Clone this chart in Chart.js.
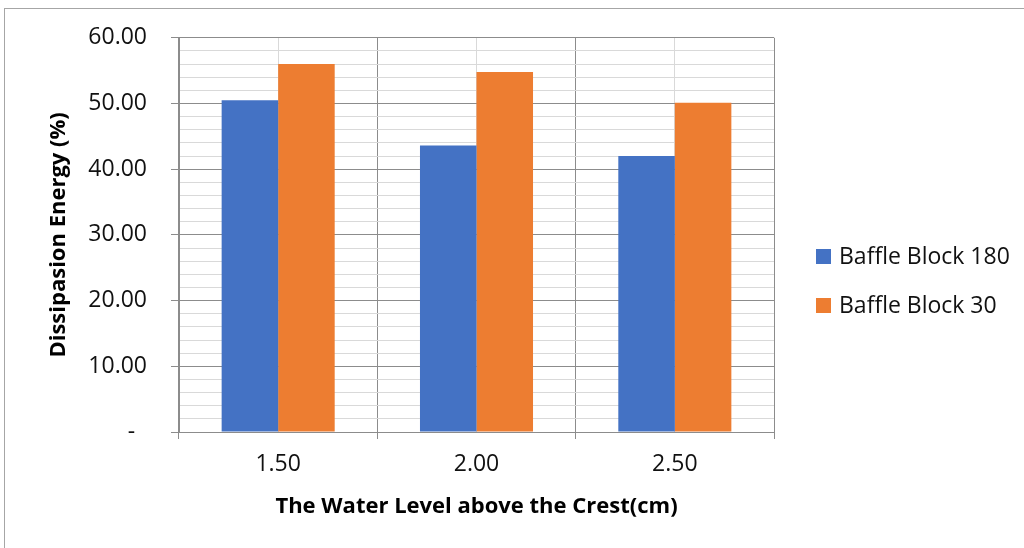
<!DOCTYPE html>
<html>
<head>
<meta charset="utf-8">
<script src="https://cdn.jsdelivr.net/npm/chart.js@4"></script>
<style>
  body { margin: 0; width: 1024px; height: 548px; overflow: hidden; background: #fff; position: relative; }
  #frame { position: absolute; left: 4px; top: 8px; width: 1100px; height: 700px; border: 1px solid #a6a6a6; }
  #myChart { position: absolute; left: 0; top: 0; }
</style>
</head>
<body>
<div id="frame"></div>
<canvas id="myChart" width="1024" height="548"></canvas>
<script>
//Chart data
const categories = ['1.50', '2.00', '2.50'];
const seriesNames = ['Baffle Block 180', 'Baffle Block 30'];
const block180 = [50.5, 43.6, 42.0];
const block30 = [56.0, 54.8, 50.1];
const yTickLabels = { 0: '-  ', 10: '10.00', 20: '20.00', 30: '30.00', 40: '40.00', 50: '50.00', 60: '60.00' };

const FONT = "'Open Sans', 'Noto Sans', sans-serif";
const majorGrid = '#8c8c8c';
const minorGrid = '#d9d9d9';

//Legend drawn on the right, like the Excel one
const sideLegend = {
   id: 'sideLegend',
   afterDraw(chart) {
      const c = chart.ctx;
      c.save();
      c.font = '23px ' + FONT;
      c.textBaseline = 'middle';
      chart.data.datasets.forEach((ds, i) => {
         const y = 256 + i * 49;
         c.fillStyle = ds.backgroundColor;
         c.fillRect(816, y - 7, 15, 15);
         c.fillStyle = '#111';
         c.fillText(ds.label, 839, y + 1);
      });
      c.restore();
   }
};

const ctx = document.getElementById('myChart').getContext('2d');
const myChart = new Chart(ctx, {
   type: 'bar',
   data: {
      labels: categories,
      datasets: [
         { label: seriesNames[0], data: block180, backgroundColor: '#4472C4' },
         { label: seriesNames[1], data: block30, backgroundColor: '#ED7D31' }
      ]
   },
   options: {
      responsive: false,
      animation: false,
      layout: { padding: { top: 37, right: 250, bottom: 0, left: 20 } },
      datasets: { bar: { categoryPercentage: 0.57, barPercentage: 1.0 } },
      scales: {
         x: {
            offset: true,
            grid: { offset: true, color: majorGrid, tickColor: majorGrid, tickLength: 7 },
            border: { color: majorGrid },
            ticks: { color: '#111', font: { family: FONT, size: 23 }, padding: 12 },
            title: {
               display: true,
               text: 'The Water Level above the Crest(cm)',
               color: '#000',
               font: { family: FONT, size: 22, weight: 'bold' },
               padding: { top: 0, bottom: 28 }
            },
            afterFit: (scale) => { scale.height = 116; }
         },
         x2: {
            type: 'category',
            labels: categories,
            position: 'top',
            offset: true,
            grid: { offset: false, color: minorGrid, drawTicks: false },
            border: { display: false },
            ticks: { display: false },
            afterFit: (scale) => { scale.height = 0; }
         },
         y: {
            min: 0,
            max: 60,
            grid: {
               color: (c) => c.tick.value % 10 === 0 ? majorGrid : minorGrid,
               tickColor: (c) => c.tick.value % 10 === 0 ? majorGrid : 'rgba(0,0,0,0)',
               tickLength: 8
            },
            border: { color: majorGrid },
            ticks: {
               stepSize: 2,
               autoSkip: false,
               color: '#111',
               padding: 24,
               font: { family: FONT, size: 23 },
               callback: (value) => yTickLabels[value] !== undefined ? yTickLabels[value] : ''
            },
            title: {
               display: true,
               text: 'Dissipasion Energy (%)',
               color: '#000',
               font: { family: FONT, size: 22, weight: 'bold' },
               padding: { top: 26, bottom: 0 }
            },
            afterFit: (scale) => { scale.width = 159; }
         }
      },
      plugins: {
         legend: { display: false },
         tooltip: { enabled: false }
      }
   },
   plugins: [sideLegend]
});
</script>
</body>
</html>
